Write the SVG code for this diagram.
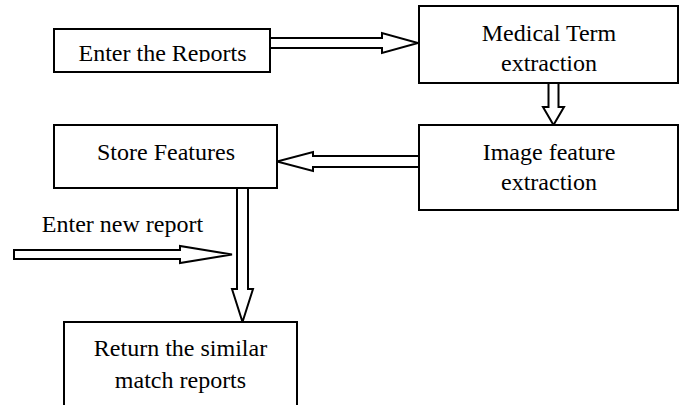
<svg xmlns="http://www.w3.org/2000/svg" width="682" height="405" viewBox="0 0 682 405">
<style>
.box{fill:#fff;stroke:#000;stroke-width:2}
.arr{fill:#fff;stroke:#000;stroke-width:2;stroke-linejoin:miter}
text{font-family:"Liberation Serif","Times New Roman",serif;font-size:24px;fill:#000;text-anchor:middle}
</style>
<defs>
<clipPath id="clip1"><rect x="54" y="29" width="216" height="33"/></clipPath>
</defs>
<rect width="682" height="405" fill="#fff"/>
<g id="connectors">
<polygon class="arr" points="270,38 382,38 382,33 418,43 382,53 382,48 270,48"/>
<polygon class="arr" points="548.5,83 548.5,107 543,107 553.5,125 564,107 558.5,107 558.5,83"/>
<polygon class="arr" points="420,156 313,156 313,152 277,161.5 313,171 313,167 420,167"/>
<polygon class="arr" points="14,250 180,250 180,246 232,254.5 180,263 180,259 14,259"/>
<polygon class="arr" points="237,188 237,289 232,289 242.5,322 253,289 248,289 248,188"/>
</g>
<g id="enter-reports">
<rect class="box" x="54" y="29" width="216" height="43"/>
<text x="162.5" y="61" clip-path="url(#clip1)">Enter the Reports</text>
</g>
<g id="medical-term">
<rect class="box" x="419" y="6" width="259" height="77"/>
<text x="549" y="41">Medical Term</text>
<text x="549" y="71">extraction</text>
</g>
<g id="image-feature">
<rect class="box" x="419" y="125" width="259" height="85"/>
<text x="549" y="160">Image feature</text>
<text x="549" y="190">extraction</text>
</g>
<g id="store-features">
<rect class="box" x="54" y="125" width="223" height="63"/>
<text x="166" y="160">Store Features</text>
</g>
<g id="enter-new-report">
<text x="122.5" y="232">Enter new report</text>
</g>
<g id="return-similar">
<rect class="box" x="64" y="322" width="233" height="100"/>
<text x="180.5" y="356">Return the similar</text>
<text x="180.5" y="388">match reports</text>
</g>
</svg>
